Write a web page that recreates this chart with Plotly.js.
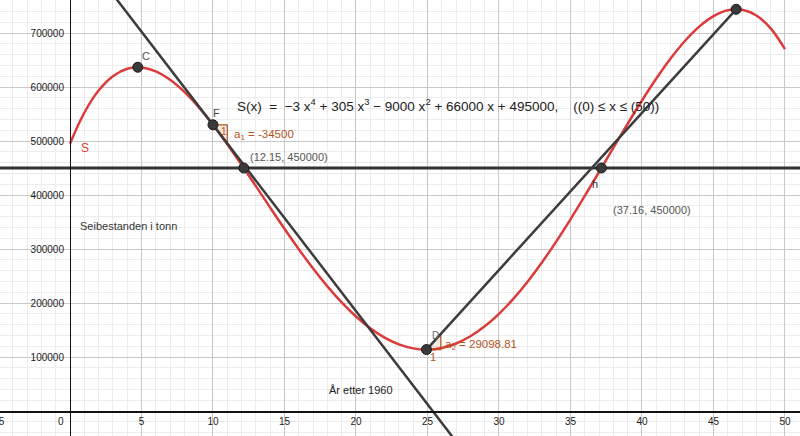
<!DOCTYPE html>
<html>
<head>
<meta charset="utf-8">
<script src="https://cdn.plot.ly/plotly-3.0.1.min.js"></script>
<style>html,body{margin:0;padding:0;background:#fff}#chart{width:800px;height:436px}</style>
</head>
<body>
<div id="chart"></div>
<script>
// Curve S(x) values read at whole years (x = years after 1960)
const curveX = [0,1,2,3,4,5,6,7,8,9,10,11,12,13,14,15,16,17,18,19,20,21,22,23,24,25,26,27,28,29,30,31,32,33,34,35,36,37,38,39,40,41,42,43,44,45,46,47,48,49,50];
const curveY = [495000,552302,593392,619992,633752,636250,628992,613412,590872,562662,530000,494032,455832,416402,376672,337500,299672,263902,230832,201032,175000,153162,135872,123412,115992,113750,116752,124992,138392,156802,180000,207692,239512,275022,313712,355000,398232,442682,487552,531972,575000,615622,652752,685232,711832,731250,742112,742972,732312,708542,670000];

// Named points
const pointNames = ["C", "F", "P", "D", "h", "E"];
const pointX = [4.74, 10, 12.15, 24.93, 37.16, 46.585];
const pointY = [636598, 530000, 450000, 113740, 450000, 743909];

// Tangent line at F (slope a1 = -34500)
const tangentX = [2, 28];
const tangentY = [806000, -91000];

// Horizontal line y = 450000
const levelX = [-6, 52];
const levelY = [450000, 450000];

// Segment D-E (slope a2 = 29098.81)
const segX = [24.93, 46.585];
const segY = [113740, 743909];

// Slope triangles
const tri1X = [10, 11, 11, 10];
const tri1Y = [530000, 530000, 495500, 530000];
const tri2X = [24.93, 25.93, 25.93, 24.93];
const tri2Y = [113740, 113740, 142839, 113740];

// Tick labels
const xTickVals = [5,10,15,20,25,30,35,40,45,50];
const xTickText = ["5","10","15","20","25","30","35","40","45","50"];
const yTickVals = [100000,200000,300000,400000,500000,600000,700000];
const yTickText = ["100000","200000","300000","400000","500000","600000","700000"];
const originLabel = "0";
const leftEdgeLabel = "\u22125";

const xRange = [-4.895, 51.05];
const yRange = [-46296, 761111];

const RED = "#dc3b3b";
const DARK = "#3c3c3c";
const BROWN = "#b5541c";
const FONT = "Liberation Sans, Arial, sans-serif";

const traces = [
  {x: curveX, y: curveY, mode: "lines", line: {color: RED, width: 2.5, shape: "spline", smoothing: 1}, hoverinfo: "skip"},
  {x: tri1X, y: tri1Y, mode: "lines", fill: "toself", fillcolor: "rgba(181,84,28,0.12)", line: {color: BROWN, width: 1.2}, hoverinfo: "skip"},
  {x: tri2X, y: tri2Y, mode: "lines", fill: "toself", fillcolor: "rgba(181,84,28,0.12)", line: {color: BROWN, width: 1.2}, hoverinfo: "skip"},
  {x: tangentX, y: tangentY, mode: "lines", line: {color: DARK, width: 2.5}, hoverinfo: "skip"},
  {x: levelX, y: levelY, mode: "lines", line: {color: "#333333", width: 2.8}, hoverinfo: "skip"},
  {x: segX, y: segY, mode: "lines", line: {color: DARK, width: 2.5}, hoverinfo: "skip"},
  {x: pointX, y: pointY, text: pointNames, mode: "markers", marker: {color: "#3a3a3a", size: 10, line: {color: "#1a1a1a", width: 1}}, hoverinfo: "skip"}
];

const py = (-yRange[0]) / (yRange[1] - yRange[0]);
const px = (-xRange[0]) / (xRange[1] - xRange[0]);

function ann(x, y, text, opts) {
  return Object.assign({x: x, y: y, xref: "x", yref: "y", text: text, showarrow: false,
    xanchor: "left", yanchor: "middle", font: {family: FONT, size: 11, color: "#444"}}, opts || {});
}

const NB = "\u00a0";
const formula = "S(x)" + NB + NB + "=" + NB + NB + "\u22123" + NB + "x<sup>4</sup>" + NB + "+" + NB + "305" + NB + "x<sup>3</sup>" + NB + "\u2212" + NB + "9000" + NB + "x<sup>2</sup>" + NB + "+" + NB + "66000" + NB + "x" + NB + "+" + NB + "495000," + NB + NB + NB + NB + "((0)" + NB + "\u2264" + NB + "x" + NB + "\u2264" + NB + "(50))";

const annotations = [
  ann(11.52, 566667, formula, {font: {family: FONT, size: 13.5, color: "#222"}}),
  ann(0.56, 342593, "Seibestanden i tonn", {font: {family: FONT, size: 11, color: "#333"}}),
  ann(18.0, 38900, "År etter 1960", {font: {family: FONT, size: 11, color: "#222"}}),
  ann(12.43, 470370, "(12.15, 450000)", {font: {family: FONT, size: 11, color: "#555"}}),
  ann(37.85, 372222, "(37.16, 450000)", {font: {family: FONT, size: 11, color: "#555"}}),
  ann(1.05, 487000, "S", {xanchor: "center", font: {family: FONT, size: 12, color: RED}}),
  ann(5.3, 657000, "C", {xanchor: "center", font: {family: FONT, size: 11, color: "#555"}}),
  ann(10.27, 551850, "F", {xanchor: "center", font: {family: FONT, size: 11, color: "#444"}}),
  ann(36.73, 420370, "h", {xanchor: "center", font: {family: FONT, size: 11, color: "#333"}}),
  ann(46.75, 755000, "E", {xanchor: "center", yanchor: "bottom", font: {family: FONT, size: 11, color: "#555"}}),
  ann(25.55, 139000, "D", {xanchor: "center", font: {family: FONT, size: 10, color: "#666"}}),
  ann(11.3, 511000, "a<sub>1</sub> = -34500", {font: {family: FONT, size: 11.5, color: BROWN}}),
  ann(26.1, 122222, "a<sub>2</sub> = 29098.81", {font: {family: FONT, size: 11.5, color: BROWN}}),
  ann(10.75, 518500, "1", {xanchor: "center", font: {family: FONT, size: 10, color: BROWN}}),
  ann(25.35, 100500, "1", {xanchor: "center", font: {family: FONT, size: 11, color: BROWN}}),
  ann(0, 0, originLabel, {xanchor: "right", yanchor: "top", xshift: -4, yshift: -3, font: {family: FONT, size: 10, color: "#222"}}),
  ann(xRange[0], 0, leftEdgeLabel, {xanchor: "center", yanchor: "top", xshift: -1.5, yshift: -3, font: {family: FONT, size: 10, color: "#222"}})
];

const layout = {
  width: 800, height: 436,
  margin: {l: 0, r: 0, t: 0, b: 0, pad: 0},
  paper_bgcolor: "#ffffff", plot_bgcolor: "#ffffff",
  showlegend: false,
  xaxis: {
    range: xRange, anchor: "free", position: py,
    tickmode: "array", tickvals: xTickVals, ticktext: xTickText,
    showgrid: true, gridcolor: "#c8c8c8", gridwidth: 1,
    minor: {dtick: 1, showgrid: true, gridcolor: "#ececec", gridwidth: 1, ticks: ""},
    zeroline: false, showline: true, linecolor: "#111", linewidth: 1.5,
    ticks: "", tickfont: {family: FONT, size: 10, color: "#222"}, automargin: false, fixedrange: true
  },
  yaxis: {
    range: yRange, anchor: "free", position: px,
    tickmode: "array", tickvals: yTickVals, ticktext: yTickText,
    showgrid: true, gridcolor: "#c8c8c8", gridwidth: 1,
    minor: {dtick: 20000, tick0: 0, showgrid: true, gridcolor: "#ececec", gridwidth: 1, ticks: ""},
    zeroline: false, showline: true, linecolor: "#111", linewidth: 1.5,
    ticks: "", ticklabelstandoff: 4, tickfont: {family: FONT, size: 10, color: "#222"}, automargin: false, fixedrange: true
  },
  annotations: annotations
};

Plotly.newPlot("chart", traces, layout, {staticPlot: true, displayModeBar: false});
</script>
</body>
</html>
